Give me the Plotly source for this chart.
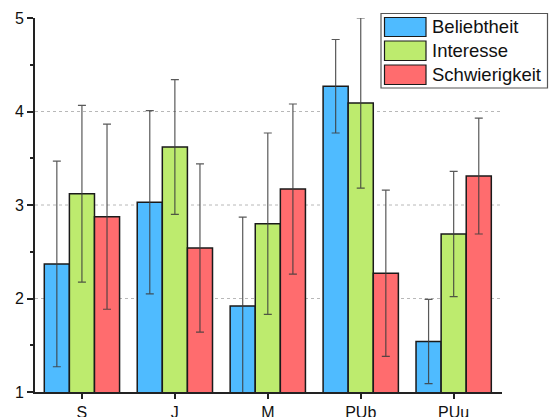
import plotly.graph_objects as go

# Survey ratings per subject area (mean and standard deviation)
categories = ["S", "J", "M", "PUb", "PUu"]
series_names = ["Beliebtheit", "Interesse", "Schwierigkeit"]

beliebtheit = [2.37, 3.03, 1.92, 4.27, 1.54]
beliebtheit_sd = [1.10, 0.98, 0.95, 0.50, 0.45]

interesse = [3.12, 3.62, 2.80, 4.09, 2.69]
interesse_sd = [0.945, 0.72, 0.97, 0.91, 0.67]

schwierigkeit = [2.875, 2.54, 3.17, 2.27, 3.31]
schwierigkeit_sd = [0.99, 0.90, 0.91, 0.89, 0.62]

series_values = [beliebtheit, interesse, schwierigkeit]
series_errors = [beliebtheit_sd, interesse_sd, schwierigkeit_sd]
series_colors = ["#4FBBFF", "#BDEB6E", "#FF6C6E"]

y_ticks = [1, 2, 3, 4, 5]
grid_values = [2, 3, 4]

FONT = "Arial, Liberation Sans, sans-serif"

fig = go.Figure()
for name, vals, errs, color in zip(series_names, series_values, series_errors, series_colors):
    fig.add_trace(go.Bar(
        name=name,
        x=categories,
        y=vals,
        marker=dict(color=color, line=dict(color="#1a1a1a", width=1.5)),
        error_y=dict(type="data", array=errs, visible=True,
                     color="rgba(60,60,60,0.85)", thickness=1.2, width=4),
        showlegend=False,
    ))

# dashed horizontal guide lines
for gv in grid_values:
    fig.add_shape(type="line", xref="paper", yref="y", x0=0, x1=1, y0=gv, y1=gv,
                  line=dict(color="#b8b8b8", width=1, dash="3px,3px"), layer="below")

# legend box with large colour swatches
fig.add_shape(type="rect", xref="paper", yref="paper",
              x0=(381 - 35) / 467, x1=(547.5 - 35) / 467,
              y0=(392 - 88) / 374, y1=(392 - 13.5) / 374,
              line=dict(color="#555555", width=1.2), fillcolor="white", layer="above")
swatch_rows = [(17.5, 36.5), (41, 60.5), (65, 84.5)]
for (top, bot), name, color in zip(swatch_rows, series_names, series_colors):
    fig.add_shape(type="rect", xref="paper", yref="paper",
                  x0=(384.5 - 35) / 467, x1=(426 - 35) / 467,
                  y0=(392 - bot) / 374, y1=(392 - top) / 374,
                  line=dict(color="#1a1a1a", width=1.2), fillcolor=color, layer="above")
    fig.add_annotation(xref="paper", yref="paper",
                       x=(430 - 35) / 467, y=(392 - (top + bot) / 2) / 374,
                       text=name, showarrow=False, xanchor="left", yanchor="middle",
                       font=dict(family=FONT, size=18.5, color="#111111"))

fig.update_layout(
    width=549, height=417,
    margin=dict(l=35, r=47, t=18, b=25, autoexpand=False),
    paper_bgcolor="white", plot_bgcolor="white",
    barmode="group", bargap=0.19, bargroupgap=0,
    font=dict(family=FONT, size=16, color="#111111"),
    xaxis=dict(
        range=[-0.505, 4.52], automargin=False,
        showline=True, linecolor="#222222", linewidth=2,
        ticks="outside", ticklen=5, tickwidth=1.5, tickcolor="#222222",
        showgrid=False, zeroline=False,
        tickfont=dict(family=FONT, size=16),
    ),
    yaxis=dict(
        range=[1, 5], automargin=False,
        tickvals=y_ticks,
        showline=True, linecolor="#222222", linewidth=2,
        ticks="outside", ticklen=6, tickwidth=1.5, tickcolor="#222222",
        minor=dict(ticks="outside", ticklen=3, dtick=0.5, tickcolor="#222222", tickwidth=1.5),
        showgrid=False, zeroline=False,
        tickfont=dict(family=FONT, size=16),
    ),
)

fig.write_html("out.html")
